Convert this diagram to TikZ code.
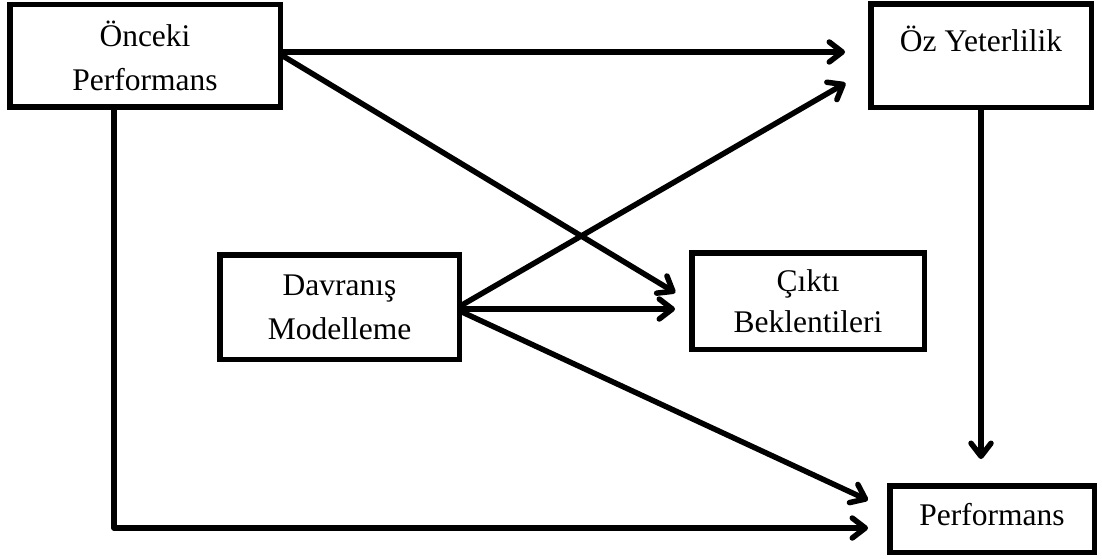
\documentclass[tikz,border=0pt]{standalone}
\usepackage{fontspec}
\setmainfont{Liberation Serif}
\usetikzlibrary{arrows.meta,calc}
\begin{document}
\begin{tikzpicture}[x=1pt,y=-1pt,
  box/.style={draw, line width=5.5pt, fill=white, align=center, inner sep=0pt,
    font=\fontsize{31.5}{44}\selectfont},
  link/.style={line width=5.5pt, line cap=round, line join=round,
    -{Straight Barb[length=13pt,width=20pt,round]}}]
\useasboundingbox (0,0) rectangle (1102,559);

% boxes
\node[box, minimum width=270.5pt, minimum height=102.5pt] (onc) at (145,56) {Önceki\\Performans};
\node[box, minimum width=220.5pt, minimum height=103.5pt, text height=26pt, text depth=34pt] (oz) at (981,56) {Öz Yeterlilik};
\node[box, minimum width=239.5pt, minimum height=104.5pt] (dav) at (339.5,307) {Davranış\\Modelleme};
\node[box, minimum width=232.5pt, minimum height=96.5pt, font=\fontsize{31.5}{41}\selectfont] (cik) at (808,301) {Çıktı\\Beklentileri};
\node[box, minimum width=204.5pt, minimum height=66.5pt, text height=21pt, text depth=9pt] (perf) at (992,519) {Performans};

% paths between the constructs
\draw[link, shorten >=23pt] (onc.east |- 0,52) -- (oz.west |- 0,52);
\draw[link, shorten >=16pt] (onc.east) -- (cik.west);
\draw[link, shorten >=19pt] ([xshift=-31pt]onc.south) |- ($(perf.west)+(0,9)$);
\draw[link, shorten >=26pt] ($(dav.east)+(0,-2)$) -- ($(oz.west)+(0,14)$);
\draw[link, shorten >=14pt] (dav.east |- 0,309) -- (cik.west |- 0,309);
\draw[link, shorten >=21pt] ($(dav.east)+(0,5)$) -- ($(perf.west)+(0,-10)$);
\draw[link, shorten >=24pt] (oz.south) -- (oz.south |- perf.north);
\end{tikzpicture}
\end{document}
